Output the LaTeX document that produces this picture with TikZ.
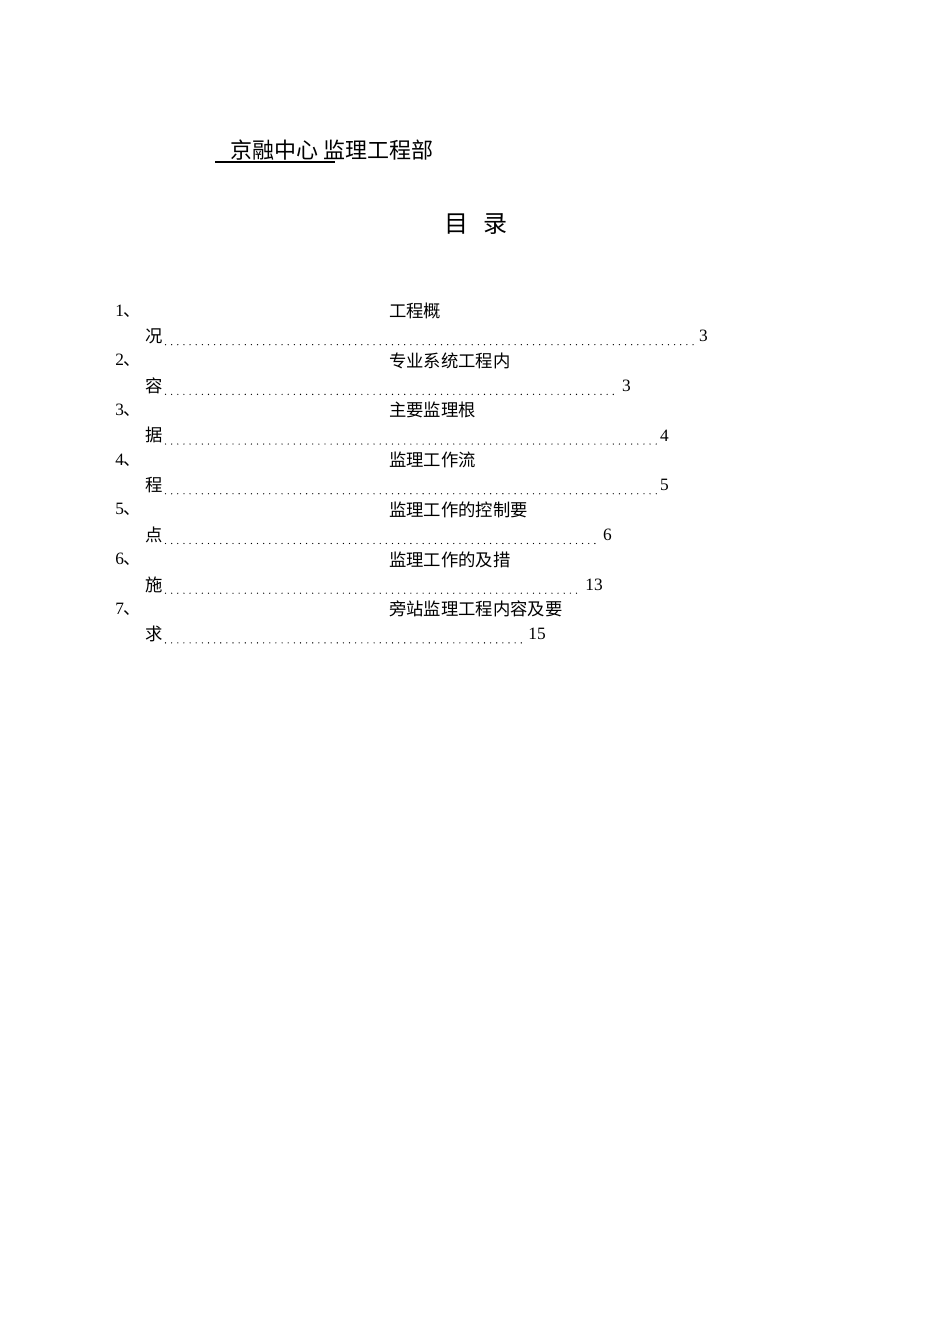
\documentclass[tikz,border=0pt]{standalone}
\usepackage{fontspec}
\setmainfont{Liberation Serif}
\newfontfamily\cjk{Noto Sans CJK SC}
\begin{document}
\begin{tikzpicture}[x=0.75pt,y=-0.75pt,
  toc/.style={inner sep=0pt,font=\fontsize{13}{13}\selectfont\cjk},
  num/.style={inner sep=0pt,font=\fontsize{13}{13}\selectfont}]
\useasboundingbox (0,0) rectangle (950,1344);
\node[anchor=west,inner sep=0pt,font=\fontsize{16.5}{16.5}\selectfont\cjk] (hd) at (230,150) {京融中心 监理工程部};
\coordinate (u1) at (215,162);
\coordinate (u2) at (335,162);
\draw[line width=0.8pt] (u1) -- (u2);
\node[inner sep=0pt,font=\fontsize{18}{18}\selectfont\cjk] (title) at (476,224) {目\hspace{0.6em}录};
\foreach \i/\t/\c/\n/\e [count=\k] in {
  1/工程概/况/3/708,
  2/专业系统工程内/容/3/631,
  3/主要监理根/据/4/669,
  4/监理工作流/程/5/669,
  5/监理工作的控制要/点/6/612,
  6/监理工作的及措/施/13/603,
  7/旁站监理工程内容及要/求/15/546}{
  \pgfmathsetmacro{\ya}{311+49.7*(\k-1)}
  \pgfmathsetmacro{\yb}{\ya+25}
  \node[num,anchor=west] (n\k) at (115,\ya) {\i{\cjk 、}};
  \node[toc,anchor=west] (t\k) at (389,\ya) {\t};
  \node[toc,anchor=west] (c\k) at (145,\yb) {\c};
  \node[num,anchor=east] (p\k) at (\e,\yb) {\n};
  \path (c\k.east) -- (p\k.west) node[midway,num] (d\k) {};
  \draw[line width=1pt,line cap=round,dash pattern=on 0pt off 4.6pt] ([xshift=2pt,yshift=-6.5pt]c\k.east) -- ([xshift=-2pt,yshift=-6.5pt]c\k.east -| p\k.west);
}
\end{tikzpicture}
\end{document}
